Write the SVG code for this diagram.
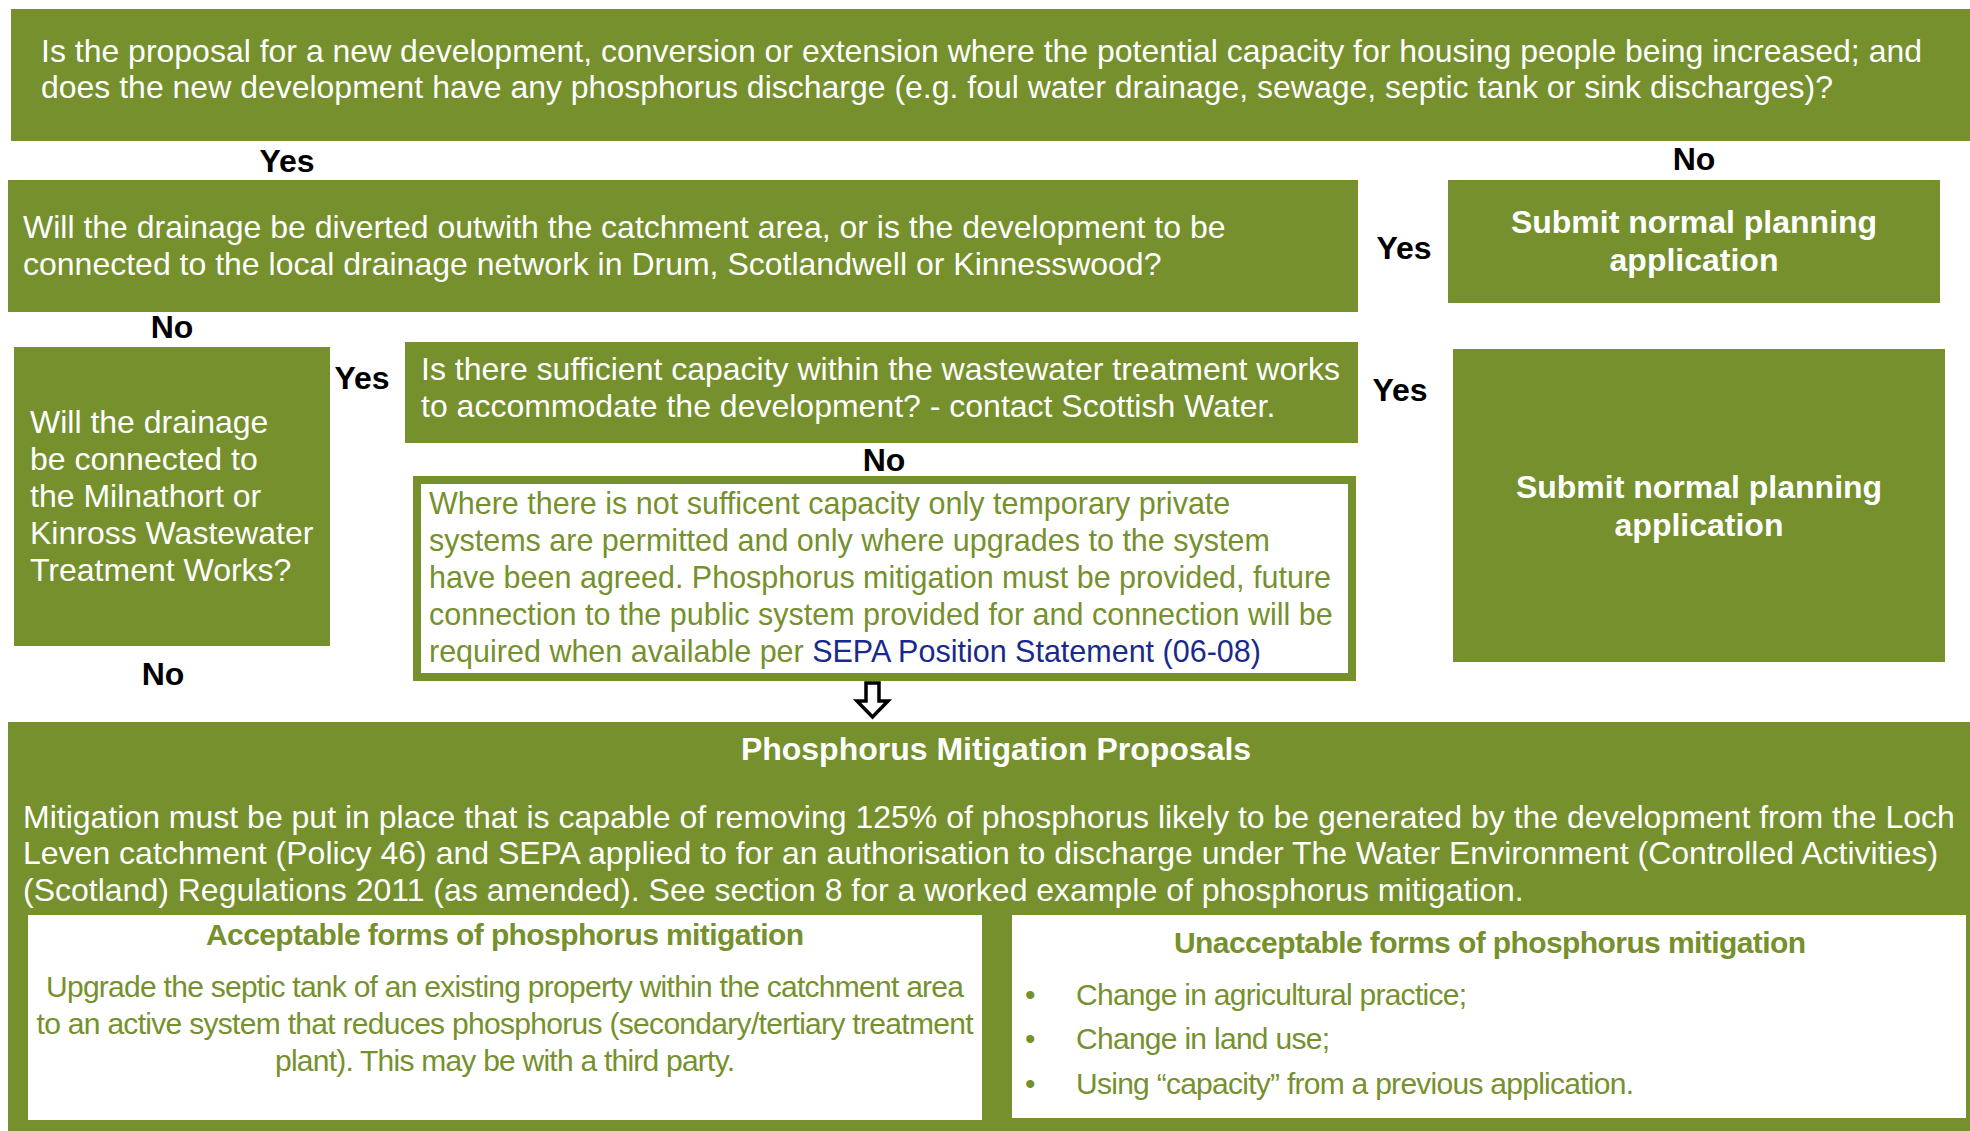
<svg xmlns="http://www.w3.org/2000/svg" width="1970" height="1131" viewBox="0 0 1970 1131">
<style>
.box{fill:#76902D}
.wt{fill:#ffffff;font-family:"Liberation Sans",Arial,sans-serif;font-size:32px}
.wb{fill:#ffffff;font-family:"Liberation Sans",Arial,sans-serif;font-size:32px;font-weight:bold;text-anchor:middle}
.lbl{fill:#000000;font-family:"Liberation Sans",Arial,sans-serif;font-size:32px;font-weight:bold;text-anchor:middle}
.gt{fill:#76902D;font-family:"Liberation Sans",Arial,sans-serif;font-size:30.5px}
.gs{fill:#76902D;font-family:"Liberation Sans",Arial,sans-serif;font-size:30px}
.gh{fill:#76902D;font-family:"Liberation Sans",Arial,sans-serif;font-size:30px;font-weight:bold;text-anchor:middle}
.blue{fill:#1A2A8C}
</style>
<rect width="1970" height="1131" fill="#ffffff"/>

<g id="q1">
<rect class="box" x="11" y="9" width="1959" height="132"/>
<text class="wt" x="41" y="62" textLength="1881" lengthAdjust="spacingAndGlyphs">Is the proposal for a new development, conversion or extension where the potential capacity for housing people being increased; and</text>
<text class="wt" x="41" y="98" textLength="1792" lengthAdjust="spacingAndGlyphs">does the new development have any phosphorus discharge (e.g. foul water drainage, sewage, septic tank or sink discharges)?</text>
</g>

<g id="q2">
<rect class="box" x="8" y="180" width="1350" height="132"/>
<text class="wt" x="23" y="238">Will the drainage be diverted outwith the catchment area, or is the development to be</text>
<text class="wt" x="23" y="275">connected to the local drainage network in Drum, Scotlandwell or Kinnesswood?</text>
</g>

<g id="submit1">
<rect class="box" x="1448" y="180" width="492" height="123"/>
<text class="wb" x="1694" y="233">Submit normal planning</text>
<text class="wb" x="1694" y="271">application</text>
</g>

<g id="q3">
<rect class="box" x="14" y="347" width="316" height="299"/>
<text class="wt" x="30" y="433">Will the drainage</text>
<text class="wt" x="30" y="470">be connected to</text>
<text class="wt" x="30" y="507">the Milnathort or</text>
<text class="wt" x="30" y="544">Kinross Wastewater</text>
<text class="wt" x="30" y="581">Treatment Works?</text>
</g>

<g id="q4">
<rect class="box" x="405" y="342" width="953" height="101"/>
<text class="wt" x="421" y="380">Is there sufficient capacity within the wastewater treatment works</text>
<text class="wt" x="421" y="417">to accommodate the development? - contact Scottish Water.</text>
</g>

<g id="note">
<rect x="417" y="480" width="935" height="197" fill="#ffffff" stroke="#76902D" stroke-width="8"/>
<text class="gt" x="429" y="514">Where there is not sufficent capacity only temporary private</text>
<text class="gt" x="429" y="551">systems are permitted and only where upgrades to the system</text>
<text class="gt" x="429" y="588">have been agreed. Phosphorus mitigation must be provided, future</text>
<text class="gt" x="429" y="625">connection to the public system provided for and connection will be</text>
<text class="gt" x="429" y="662">required when available per <tspan class="blue">SEPA Position Statement (06-08)</tspan></text>
</g>

<g id="submit2">
<rect class="box" x="1453" y="349" width="492" height="313"/>
<text class="wb" x="1699" y="498">Submit normal planning</text>
<text class="wb" x="1699" y="536">application</text>
</g>

<g id="mitigation">
<rect class="box" x="8" y="722" width="1962" height="409"/>
<text class="wb" x="996" y="760">Phosphorus Mitigation Proposals</text>
<text class="wt" x="23" y="828">Mitigation must be put in place that is capable of removing 125% of phosphorus likely to be generated by the development from the Loch</text>
<text class="wt" x="23" y="864">Leven catchment (Policy 46) and SEPA applied to for an authorisation to discharge under The Water Environment (Controlled Activities)</text>
<text class="wt" x="23" y="901">(Scotland) Regulations 2011 (as amended). See section 8 for a worked example of phosphorus mitigation.</text>
</g>

<g id="acceptable">
<rect x="28" y="915" width="954" height="205" fill="#ffffff"/>
<text class="gh" x="505" y="945" textLength="598" lengthAdjust="spacing">Acceptable forms of phosphorus mitigation</text>
<text class="gs" x="505" y="997" text-anchor="middle" textLength="918" lengthAdjust="spacing">Upgrade the septic tank of an existing property within the catchment area</text>
<text class="gs" x="505" y="1034" text-anchor="middle" textLength="937" lengthAdjust="spacing">to an active system that reduces phosphorus (secondary/tertiary treatment</text>
<text class="gs" x="505" y="1071" text-anchor="middle" textLength="460" lengthAdjust="spacing">plant). This may be with a third party.</text>
</g>

<g id="unacceptable">
<rect x="1012" y="915" width="954" height="203" fill="#ffffff"/>
<text class="gh" x="1490" y="953" textLength="632" lengthAdjust="spacing">Unacceptable forms of phosphorus mitigation</text>
<text class="gs" x="1025" y="1005">•</text>
<text class="gs" x="1076" y="1005" textLength="391" lengthAdjust="spacing">Change in agricultural practice;</text>
<text class="gs" x="1025" y="1049">•</text>
<text class="gs" x="1076" y="1049" textLength="254" lengthAdjust="spacing">Change in land use;</text>
<text class="gs" x="1025" y="1094">•</text>
<text class="gs" x="1076" y="1094" textLength="558" lengthAdjust="spacing">Using “capacity” from a previous application.</text>
</g>

<g id="connectors">
<text class="lbl" x="287" y="172">Yes</text>
<text class="lbl" x="1694" y="170">No</text>
<text class="lbl" x="1404" y="259">Yes</text>
<text class="lbl" x="172" y="338">No</text>
<text class="lbl" x="362" y="389">Yes</text>
<text class="lbl" x="884" y="471">No</text>
<text class="lbl" x="1400" y="401">Yes</text>
<text class="lbl" x="163" y="685">No</text>
<path d="M866 683 H879 V701 H888 L872.5 717 L857 701 H866 Z" fill="#ffffff" stroke="#000000" stroke-width="3.5" stroke-linejoin="miter"/>
</g>
</svg>
